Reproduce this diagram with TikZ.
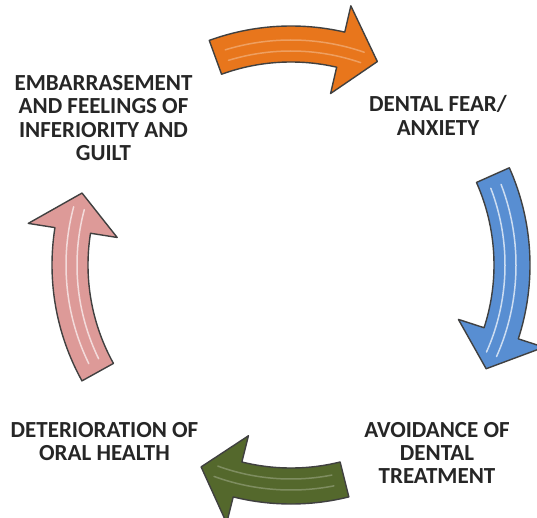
\documentclass[tikz,border=0pt]{standalone}
\usepackage{fontspec}
\setmainfont{Carlito}
\usepackage{tikz}
\usetikzlibrary{positioning}
\definecolor{arrOrange}{RGB}{232,118,28}
\definecolor{arrBlue}{RGB}{88,142,210}
\definecolor{arrGreen}{RGB}{84,104,44}
\definecolor{arrPink}{RGB}{221,154,152}
\tikzset{stagelbl/.style={font=\bfseries\fontsize{23}{23.3}\selectfont,align=center,text=black!85},
	cyclearrow/.style={draw=black!75,line width=1.4pt,line join=round},
	gloss/.style={white,line width=1.5pt,line cap=round}}

\begin{document}
\begin{tikzpicture}[x=1pt,y=1pt]
	\useasboundingbox (0,0) rectangle (537,517);
	\coordinate (cyc) at (291,252);
	\node[stagelbl] (embar) at (103.5,399) {EMBARRASEMENT\\AND FEELINGS OF\\INFERIORITY AND\\GUILT};
	\node[stagelbl] (fear) at (438,401.5) {DENTAL FEAR/\\ANXIETY};
	\node[stagelbl] (avoid) at (437,64) {AVOIDANCE OF\\DENTAL\\TREATMENT};
	\node[stagelbl] (deter) at (104.5,75.5) {DETERIORATION OF\\ORAL HEALTH};
	%
	\foreach \a/\b/\col/\op in {110/67/arrOrange/.3,24/-28/arrBlue/.7,-76/-114/arrGreen/.25,209/161/arrPink/.65}{
		\pgfmathsetmacro{\h}{\b+10}
		\filldraw[cyclearrow,fill=\col,shift={(cyc)}] (\a:239) arc[start angle=\a,end angle=\h,radius=239]
			-- (\h:266) -- (\b:221) -- (\h:176) -- (\h:203) arc[start angle=\h,end angle=\a,radius=203] -- cycle;
		\draw[gloss,opacity=\op,shift={(cyc)}] ({\a-3}:225) arc[start angle=\a-3,end angle=\b+4,radius=225];
		\draw[gloss,opacity=\op,shift={(cyc)}] ({\a-3}:214) arc[start angle=\a-3,end angle=\b+4,radius=214];
	}
\end{tikzpicture}
\end{document}
